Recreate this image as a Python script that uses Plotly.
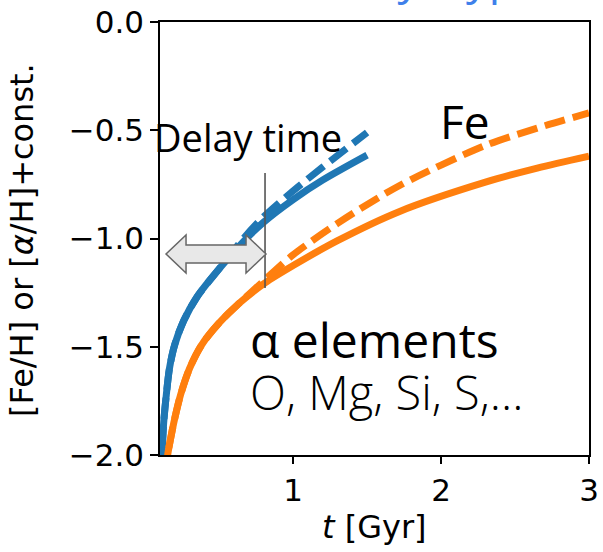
import plotly.graph_objects as go

# Time axis (Gyr) and abundance tracks (dex)
t_blue = [0.105, 0.115, 0.125, 0.14, 0.164, 0.2, 0.26, 0.35, 0.5, 0.67, 0.8, 1.0, 1.2, 1.5]
blue_alpha = [-2.1, -1.97, -1.85, -1.74, -1.6, -1.49, -1.38, -1.27, -1.14, -1.01, -0.925, -0.82, -0.73, -0.615]
blue_fe = [-2.1, -1.97, -1.85, -1.74, -1.6, -1.49, -1.38, -1.27, -1.14, -0.995, -0.9, -0.78, -0.67, -0.51]

t_orange = [0.14, 0.152, 0.17, 0.2, 0.24, 0.3, 0.383, 0.5, 0.634, 0.81, 1.0, 1.3, 1.72, 2.3, 2.65, 3.0]
orange_alpha = [-2.1, -2.0, -1.93, -1.83, -1.72, -1.6, -1.49, -1.39, -1.30, -1.205, -1.125, -1.01, -0.875, -0.74, -0.675, -0.62]
orange_fe = [-2.1, -2.0, -1.93, -1.83, -1.72, -1.6, -1.49, -1.39, -1.30, -1.19, -1.075, -0.93, -0.755, -0.57, -0.49, -0.42]

x_ticks = [1, 2, 3]
x_ticklabels = ["1", "2", "3"]
y_ticks = [-2.0, -1.5, -1.0, -0.5, 0.0]
y_ticklabels = ["\u22122.0", "\u22121.5", "\u22121.0", "\u22120.5", "0.0"]

delay_t = 0.81  # onset of the delayed Fe contribution

BLUE = "#1f77b4"
ORANGE = "#ff7f0e"
W, H = 603, 552
ML, MR, MT, MB = 160, 14, 22, 97
X0, X1 = 0.1, 3.0
Y0, Y1 = -2.0, 0.0
PW, PH = W - ML - MR, H - MT - MB


def px_x(px):
    return X0 + (px - ML) / PW * (X1 - X0)


def px_y(py):
    return Y1 - (py - MT) / PH * (Y1 - Y0)


def paper_x(px):
    return (px - ML) / PW


def paper_y(py):
    return (H - MB - py) / PH


fig = go.Figure()
lw = 7
line_kw = dict(width=lw, shape="spline", smoothing=0.8)
fig.add_trace(go.Scatter(x=t_blue, y=blue_alpha, mode="lines", line=dict(color=BLUE, **line_kw)))
fig.add_trace(go.Scatter(x=t_blue, y=blue_fe, mode="lines",
                         line=dict(color=BLUE, dash="21px,8px", **line_kw)))
fig.add_trace(go.Scatter(x=t_orange, y=orange_alpha, mode="lines", line=dict(color=ORANGE, **line_kw)))
fig.add_trace(go.Scatter(x=t_orange, y=orange_fe, mode="lines",
                         line=dict(color=ORANGE, dash="21px,8px", **line_kw)))

# vertical marker of the delay time
fig.add_shape(type="line", x0=delay_t, x1=delay_t, y0=-0.697, y1=-1.229,
              line=dict(color="#555555", width=1.6), layer="above")

# double-headed arrow spanning the delay, drawn in pixel offsets
arrow = "M 1 0 L -19 19 L -19 9 L -79 9 L -79 19 L -99 0 L -79 -19 L -79 -9 L -19 -9 L -19 -19 Z"
fig.add_shape(type="path", xsizemode="pixel", ysizemode="pixel",
              xanchor=delay_t, yanchor=-1.0716, xref="x", yref="y", path=arrow,
              fillcolor="#e8e8e8", line=dict(color="#666666", width=1.5), layer="above")

txt = dict(family="Open Sans", color="black")
fig.add_annotation(x=px_x(247.5), y=px_y(136.5), text="Delay time", showarrow=False,
                   xanchor="center", yanchor="middle", font=dict(size=38, **txt))
fig.add_annotation(x=px_x(464.5), y=px_y(120.5), text="Fe", showarrow=False,
                   xanchor="center", yanchor="middle", font=dict(size=46, **txt))
fig.add_annotation(x=px_x(248), y=px_y(339), text="\u03b1 elements", showarrow=False,
                   xanchor="left", yanchor="middle", font=dict(size=48, **txt))
fig.add_annotation(x=px_x(248), y=px_y(392), text="O, Mg, Si, S,...", showarrow=False,
                   xanchor="left", yanchor="middle", font=dict(size=47, weight=300, **txt))

# axis titles
ax_font = dict(family="DejaVu Sans", size=32, color="black")
fig.add_annotation(xref="paper", yref="paper", x=paper_x(374.5), y=paper_y(527),
                   text="<i>t</i> [Gyr]", showarrow=False, xanchor="center", yanchor="middle",
                   font=ax_font)
fig.add_annotation(xref="paper", yref="paper", x=paper_x(22), y=paper_y(240),
                   text="[Fe/H] or [<i>\u03b1</i>/H]+const.", showarrow=False, textangle=-90,
                   xanchor="center", yanchor="middle", font=ax_font)

# slide heading running above the figure
fig.add_annotation(xref="paper", yref="paper", x=paper_x(368), y=paper_y(-23.5),
                   text="by\u2002\u2009type", showarrow=False, xanchor="left", yanchor="middle",
                   font=dict(family="Open Sans", size=45, color="#3f80ea"))

tick_font = dict(family="DejaVu Sans", size=31, color="black")
axis_kw = dict(showline=True, linecolor="black", linewidth=1.5, mirror=True,
               ticks="outside", tickwidth=1.5, tickcolor="black",
               showgrid=False, zeroline=False, tickfont=tick_font, automargin=False)
fig.update_xaxes(range=[X0, X1], tickvals=x_ticks, ticktext=x_ticklabels, ticklen=7, **axis_kw)
fig.update_yaxes(range=[Y0, Y1], tickvals=y_ticks, ticktext=y_ticklabels, ticklen=8, **axis_kw)
fig.update_layout(width=W, height=H, margin=dict(l=ML, r=MR, t=MT, b=MB),
                  plot_bgcolor="white", paper_bgcolor="white", showlegend=False)

fig.write_html("out.html")
